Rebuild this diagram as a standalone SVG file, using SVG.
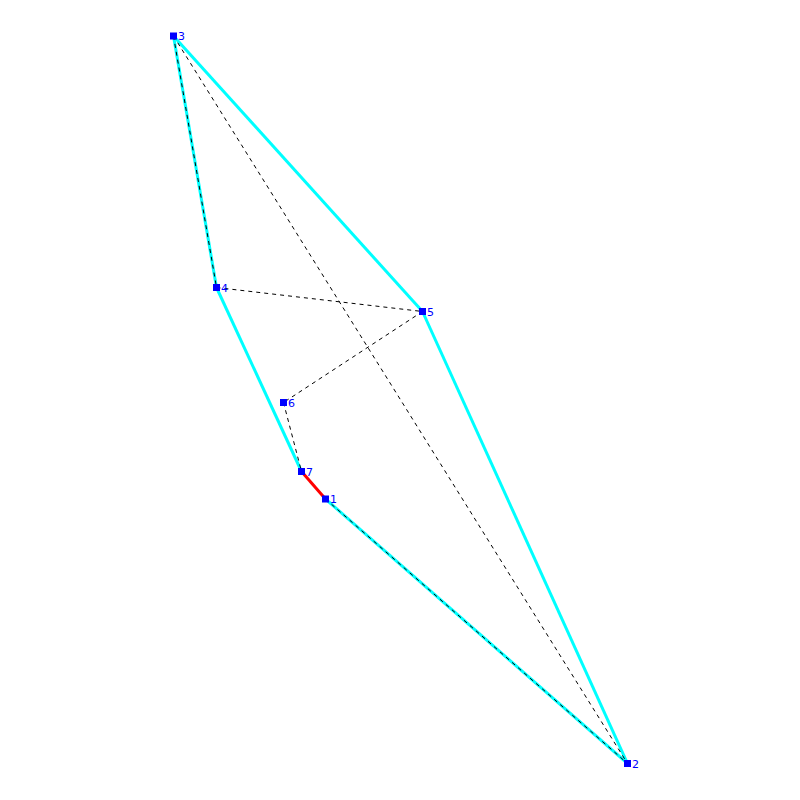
<svg xmlns="http://www.w3.org/2000/svg" width="800" height="800" viewBox="0 0 800 800">
<style>
.hull{stroke:#00ffff;stroke-width:3;fill:none}
.red{stroke:#ff0000;stroke-width:3;fill:none}
.dash{stroke:#000;stroke-width:1;stroke-dasharray:4,4;fill:none}
.node rect{fill:#0000ff}
.node text{fill:#0000ff;font-family:"DejaVu Sans",sans-serif;font-size:11px}
</style>
<rect width="800" height="800" fill="#fff"/>
<g id="connectors">
<line class="hull" x1="173.5" y1="36" x2="422.5" y2="311.5"/>
<line class="hull" x1="422.5" y1="311.5" x2="627.5" y2="763.5"/>
<line class="hull" x1="627.5" y1="763.5" x2="325.5" y2="499"/>
<line class="hull" x1="173.5" y1="36" x2="216.5" y2="287.5"/>
<line class="hull" x1="216.5" y1="287.5" x2="301.5" y2="471.5"/>
<line class="red" x1="301.5" y1="471.5" x2="325.5" y2="499"/>
<line class="dash" x1="173.5" y1="36" x2="216.5" y2="287.5"/>
<line class="dash" x1="173.5" y1="36" x2="627.5" y2="763.5"/>
<line class="dash" x1="216.5" y1="287.5" x2="422.5" y2="311.5"/>
<line class="dash" x1="422.5" y1="311.5" x2="283.5" y2="402.5"/>
<line class="dash" x1="283.5" y1="402.5" x2="301.5" y2="471.5"/>
<line class="dash" x1="325.5" y1="499" x2="627.5" y2="763.5"/>
</g>
<g id="n1" class="node"><rect x="322" y="495.5" width="7" height="7"/><text x="330" y="503">1</text></g>
<g id="n2" class="node"><rect x="624" y="760" width="7" height="7"/><text x="632" y="767.5">2</text></g>
<g id="n3" class="node"><rect x="170" y="32.5" width="7" height="7"/><text x="178" y="40">3</text></g>
<g id="n4" class="node"><rect x="213" y="284" width="7" height="7"/><text x="221" y="291.5">4</text></g>
<g id="n5" class="node"><rect x="419" y="308" width="7" height="7"/><text x="427" y="315.5">5</text></g>
<g id="n6" class="node"><rect x="280" y="399" width="7" height="7"/><text x="288" y="406.5">6</text></g>
<g id="n7" class="node"><rect x="298" y="468" width="7" height="7"/><text x="306" y="475.5">7</text></g>
</svg>
